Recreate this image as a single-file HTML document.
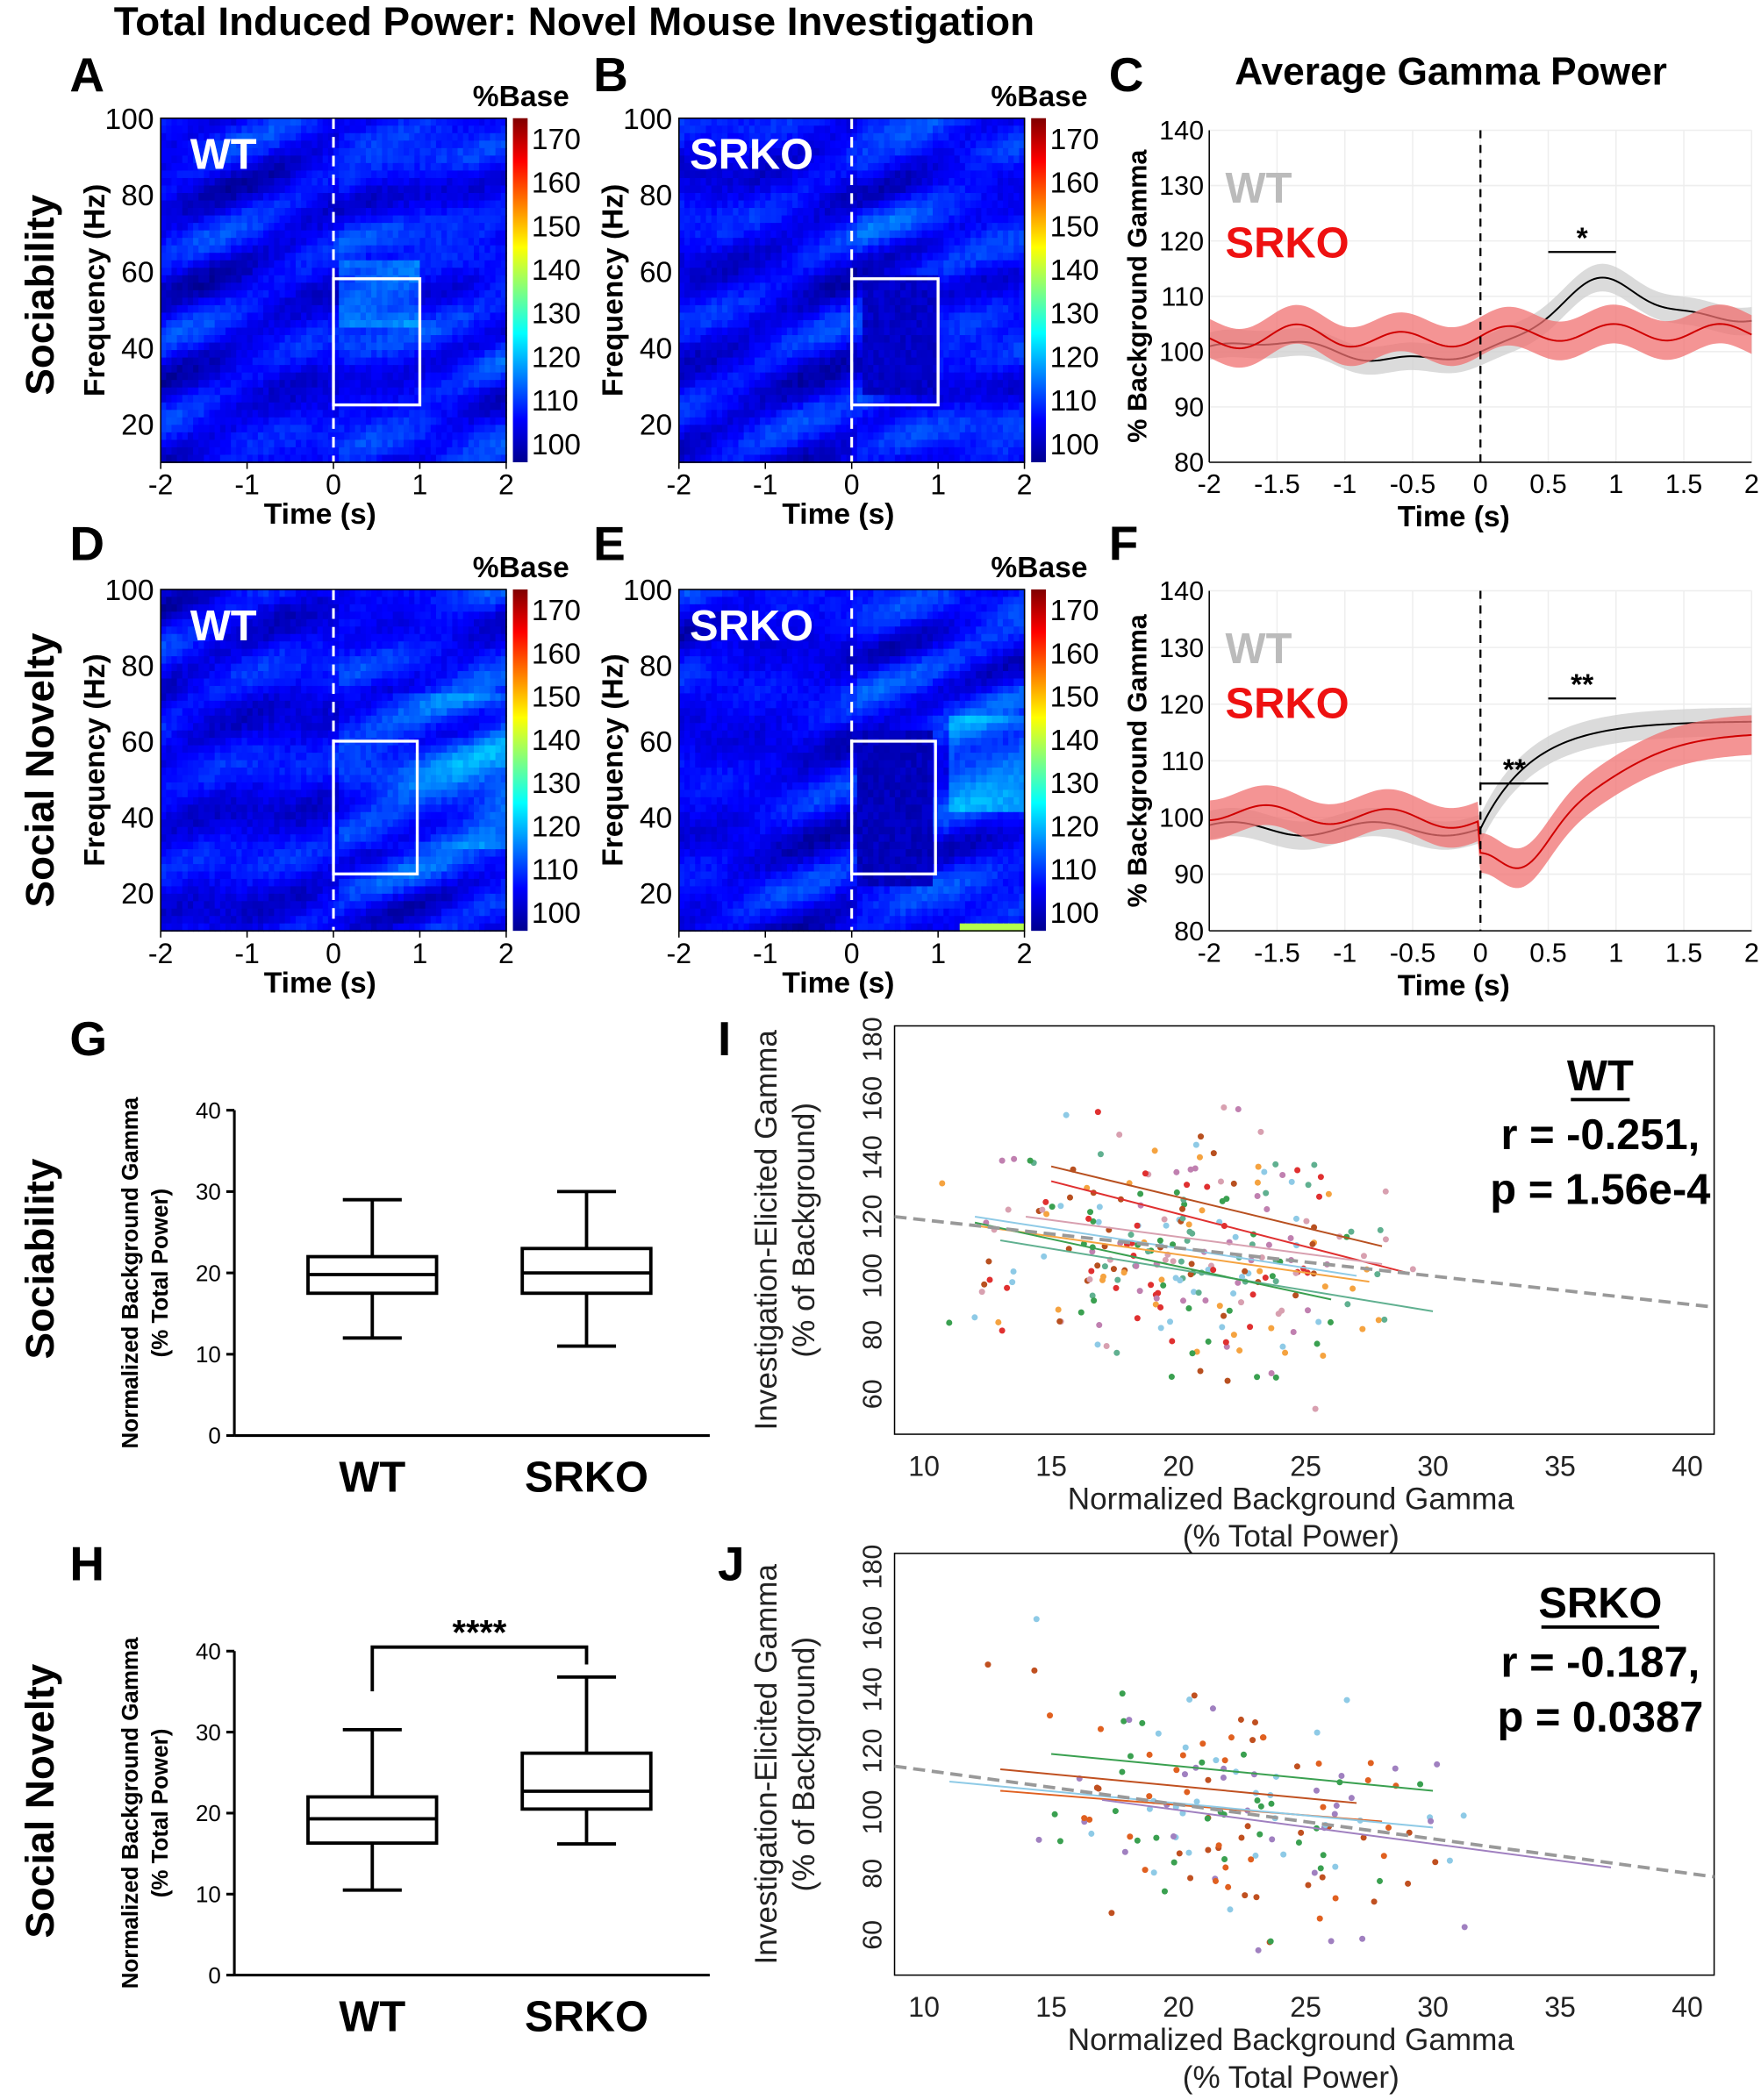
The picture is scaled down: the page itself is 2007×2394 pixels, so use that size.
<!DOCTYPE html>
<html><head><meta charset="utf-8"><style>
html,body{margin:0;padding:0;background:#fff}
svg{display:block}
text{font-family:"Liberation Sans",Arial,sans-serif}
</style></head><body>
<svg id="s" width="2007" height="2394" viewBox="0 0 1315 1568" xmlns="http://www.w3.org/2000/svg">
<defs>
<linearGradient id="jet" x1="0" y1="1" x2="0" y2="0">
<stop offset="0" stop-color="#00008f"/><stop offset="0.125" stop-color="#0000ff"/>
<stop offset="0.375" stop-color="#00ffff"/><stop offset="0.625" stop-color="#ffff00"/>
<stop offset="0.875" stop-color="#ff0000"/><stop offset="1" stop-color="#800000"/>
</linearGradient>
<clipPath id="c1"><rect x="668" y="766" width="612" height="305"/></clipPath>
<clipPath id="c2"><rect x="668" y="1160" width="612" height="315"/></clipPath>
</defs>
<text x="85" y="26" font-size="30" font-weight="bold">Total Induced Power: Novel Mouse Investigation</text>
<text x="922" y="63" font-size="29" font-weight="bold">Average Gamma Power</text>
<g font-size="36" font-weight="bold">
<text x="52" y="68">A</text><text x="443" y="68">B</text><text x="828" y="68">C</text>
<text x="52" y="418">D</text><text x="443" y="418">E</text><text x="828" y="418">F</text>
<text x="52" y="788">G</text><text x="536" y="788">I</text>
<text x="52" y="1180">H</text><text x="536" y="1180">J</text>
</g>
<g font-size="30" font-weight="bold" text-anchor="middle">
<text transform="translate(40,220) rotate(-90)">Sociability</text>
<text transform="translate(40,575) rotate(-90)">Social Novelty</text>
<text transform="translate(40,940) rotate(-90)">Sociability</text>
<text transform="translate(40,1345) rotate(-90)">Social Novelty</text>
</g>
<g id="dyn"></g>
</svg>
<script>
const NS="http://www.w3.org/2000/svg";let G=document.getElementById('dyn');
function el(t,a,txt){const e=document.createElementNS(NS,t);for(const k in a)e.setAttribute(k,a[k]);if(txt!==undefined)e.textContent=txt;G.appendChild(e);return e;}
let seed=7;function rnd(){seed=(seed*16807)%2147483647;return seed/2147483647;}
function jet(v){v=Math.max(0,Math.min(1,v));let r=Math.min(4*v-1.5,-4*v+4.5),g=Math.min(4*v-0.5,-4*v+3.5),b=Math.min(4*v+0.5,-4*v+2.5);
 const c=x=>Math.round(255*Math.max(0,Math.min(1,x)));return `rgb(${c(r)},${c(g)},${c(b)})`;}
function heat(x0,y0,w,h,lab,boxX1,boxX2,boxY1,boxY2,kind){
 const nx=64,ny=46,cw=w/nx,ch=h/ny;
 const ph=[rnd()*6,rnd()*6,rnd()*6,rnd()*6];
 for(let j=0;j<ny;j++)for(let i=0;i<nx;i++){
  let u=i/nx,f=j/ny;
  let n=Math.sin(u*6+ph[0]+f*2)*Math.sin(f*24+ph[1]+u*5)+0.5*Math.sin(u*17+f*29+ph[2]);
  let v=0.1+0.06*n+0.04*rnd();
  if(u>0.5) v+=0.04*(0.5+0.5*Math.sin(f*40+u*10+ph[3]));
  if(kind==1 && u>0.5 && u<0.75 && f>0.4 && f<0.6) v+=0.1;
  if(kind==2 && u>0.52 && u<0.75 && f>0.45 && f<0.8) v=0.05+0.04*rnd();
  if(kind==3 && u>0.5 && f>0.3 && f<0.75) v+=0.08*(u-0.4)*2;
  if(kind==4 && u>0.5 && u<0.73 && f>0.4 && f<0.85) v=0.04+0.04*rnd();
  if(kind==4 && u>0.78 && f>0.35 && f<0.65) v+=0.1;
  if(kind==4 && u>0.8 && f>0.96) v=0.55;
  el('rect',{x:x0+i*cw,y:y0+j*ch,width:cw+0.6,height:ch+0.6,fill:jet(v)});
 }
 const X=t=>x0+(t+2)*w/4, Y=fq=>y0+h-(fq-10)*h/90;
 el('line',{x1:X(0),y1:y0,x2:X(0),y2:y0+h,stroke:'#fff','stroke-width':2,'stroke-dasharray':'8,6'});
 el('rect',{x:X(boxX1),y:Y(boxY2),width:X(boxX2)-X(boxX1),height:Y(boxY1)-Y(boxY2),fill:'none',stroke:'#fff','stroke-width':2.2});
 el('text',{x:x0+(lab=='WT'?22:8),y:y0+38,'font-size':32,'font-weight':'bold',fill:'#fff'},lab);
 el('rect',{x:x0,y:y0,width:w,height:h,fill:'none',stroke:'#000','stroke-width':1});
 for(let t=-2;t<=2;t++){el('line',{x1:X(t),y1:y0+h,x2:X(t),y2:y0+h+5,stroke:'#000'});el('text',{x:X(t),y:y0+h+24,'font-size':21,'text-anchor':'middle'},t);}
 for(let fq=20;fq<=100;fq+=20){el('text',{x:x0-5,y:Y(fq)+8,'font-size':22,'text-anchor':'end'},fq);}
 el('text',{x:x0+w/2-10,y:y0+h+46,'font-size':22,'font-weight':'bold','text-anchor':'middle'},'Time (s)');
 el('text',{transform:`translate(${x0-42},${y0+h/2}) rotate(-90)`,'font-size':22,'font-weight':'bold','text-anchor':'middle'},'Frequency (Hz)');
 const cx=x0+w+5;el('rect',{x:cx,y:y0,width:11,height:h,fill:'url(#jet)'});
 el('text',{x:cx-30,y:y0-9,'font-size':22,'font-weight':'bold'},'%Base');
 for(let k=0;k<8;k++){const v=100+k*10;const yy=y0+h-14-k*(h-29)/7;el('text',{x:cx+14,y:yy+8,'font-size':22},v);}
}
heat(120,88,258,257,'WT',0,1,25,58,1);
heat(507,88,258,257,'SRKO',0,1,25,58,2);
heat(120,440,258,255,'WT',0,0.97,25,60,3);
heat(507,440,258,255,'SRKO',0,0.97,25,60,4);

function line(x0,y0,w,h,wt,sr,stars){
 const X=t=>x0+(t+2)*w/4,Y=v=>y0+h-(v-80)*h/60;
 for(let t=-2;t<=2;t+=0.5)el('line',{x1:X(t),y1:y0,x2:X(t),y2:y0+h,stroke:'#eee'});
 for(let v=90;v<=140;v+=10)el('line',{x1:x0,y1:Y(v),x2:x0+w,y2:Y(v),stroke:'#eee'});
 function band(fn,err,col,lc){let up=[],dn=[],ln=[];for(let t=-2;t<=2.001;t+=0.02){const v=fn(t);up.push(X(t)+','+Y(v+err));dn.unshift(X(t)+','+Y(v-err));ln.push(X(t)+','+Y(v));}
  el('polygon',{points:up.concat(dn).join(' '),fill:col,opacity:0.75});el('polyline',{points:ln.join(' '),fill:'none',stroke:lc,'stroke-width':1.3});}
 band(wt,2.5,'#cfcfcf','#000');band(sr,3.5,'#f07070','#d00000');
 el('line',{x1:X(0),y1:y0,x2:X(0),y2:y0+h,stroke:'#000','stroke-width':1.5,'stroke-dasharray':'6,5'});
 el('line',{x1:x0,y1:y0,x2:x0,y2:y0+h,stroke:'#000'});el('line',{x1:x0,y1:y0+h,x2:x0+w,y2:y0+h,stroke:'#000'});
 for(let v=80;v<=140;v+=10)el('text',{x:x0-4,y:Y(v)+7,'font-size':20,'text-anchor':'end'},v);
 const tl=['-2','-1.5','-1','-0.5','0','0.5','1','1.5','2'];
 tl.forEach((s,i)=>el('text',{x:X(-2+i*0.5),y:y0+h+23,'font-size':20,'text-anchor':'middle'},s));
 el('text',{x:x0+w/2-20,y:y0+h+48,'font-size':22,'font-weight':'bold','text-anchor':'middle'},'Time (s)');
 el('text',{transform:`translate(${x0-47},${y0+h/2}) rotate(-90)`,'font-size':20,'font-weight':'bold','text-anchor':'middle'},'% Background Gamma');
 el('text',{x:x0+12,y:y0+54,'font-size':32,'font-weight':'bold',fill:'#bbb'},'WT');
 el('text',{x:x0+12,y:y0+95,'font-size':32,'font-weight':'bold',fill:'#ee1111'},'SRKO');
 stars.forEach(s=>{el('line',{x1:X(s[0]),y1:Y(s[2]),x2:X(s[1]),y2:Y(s[2]),stroke:'#000','stroke-width':1.5});
  el('text',{x:(X(s[0])+X(s[1]))/2,y:Y(s[2])-3,'font-size':22,'font-weight':'bold','text-anchor':'middle'},s[3]);});
}
const g=(t,c,s)=>Math.exp(-((t-c)*(t-c))/(2*s*s));
const sig=x=>1/(1+Math.exp(-x));
line(903,97,405,248,
 t=>100+2*g(t,-1.5,0.3)-1.5*g(t,-0.6,0.4)+6*sig((t-0.4)/0.15)+7*g(t,0.9,0.3)+Math.sin(t*9)*0.6,
 t=>102+1.5*g(t,-1.3,0.2)+Math.sin(t*8)*1.5+1.5*sig(t/0.2),
 [[0.5,1,118,'*']]);
line(903,441,405,254,
 t=>(t<0?98+Math.sin(t*6)*1.2:98+19*(1-Math.exp(-t*2.6))),
 t=>(t<0?101-1.5*(t+2)/2+Math.sin(t*7)*1.5:97-8*g(t,0.3,0.2)+18*sig((t-0.9)/0.3)-3*sig(-t/0.05)),
 [[0,0.5,106,'**'],[0.5,1,121,'**']]);

function boxplot(x0,y0,h,boxes,bracket){
 const Y=v=>y0+h-v*h/40;
 el('line',{x1:x0,y1:y0,x2:x0,y2:y0+h,stroke:'#000','stroke-width':2});
 el('line',{x1:x0,y1:y0+h,x2:x0+355,y2:y0+h,stroke:'#000','stroke-width':2});
 for(let v=0;v<=40;v+=10){el('line',{x1:x0-6,y1:Y(v),x2:x0,y2:Y(v),stroke:'#000','stroke-width':2});el('text',{x:x0-10,y:Y(v)+6,'font-size':17,'text-anchor':'end'},v);}
 el('text',{transform:`translate(${x0-72},${y0+h/2}) rotate(-90)`,'font-size':17,'font-weight':'bold','text-anchor':'middle'},'Normalized Background Gamma');
 el('text',{transform:`translate(${x0-50},${y0+h/2}) rotate(-90)`,'font-size':17,'font-weight':'bold','text-anchor':'middle'},'(% Total Power)');
 boxes.forEach(b=>{const[c,lo,q1,m,q3,hi,lab]=b;
  el('line',{x1:c,y1:Y(lo),x2:c,y2:Y(hi),stroke:'#000','stroke-width':2.5});
  el('line',{x1:c-22,y1:Y(lo),x2:c+22,y2:Y(lo),stroke:'#000','stroke-width':2.5});
  el('line',{x1:c-22,y1:Y(hi),x2:c+22,y2:Y(hi),stroke:'#000','stroke-width':2.5});
  el('rect',{x:c-48,y:Y(q3),width:96,height:Y(q1)-Y(q3),fill:'#fff',stroke:'#000','stroke-width':2.5});
  el('line',{x1:c-48,y1:Y(m),x2:c+48,y2:Y(m),stroke:'#000','stroke-width':2.5});
  el('text',{x:c,y:y0+h+42,'font-size':32,'font-weight':'bold','text-anchor':'middle'},lab);});
 if(bracket){el('polyline',{points:`278,1263 278,1230 438,1230 438,1243`,fill:'none',stroke:'#000','stroke-width':2.5});
  el('text',{x:358,y:1228,'font-size':26,'font-weight':'bold','text-anchor':'middle'},'****');}
}
boxplot(175,829,243,[[278,12,17.5,19.8,22,29,'WT'],[438,11,17.5,20,23,30,'SRKO']],false);
boxplot(175,1233,242,[[278,10.5,16.3,19.3,22,30.3,'WT'],[438,16.2,20.5,22.7,27.4,36.8,'SRKO']],true);

function scatter(x0,y0,w,h,cols,n,lines,trend,title,r,p,clip,xr){
 const X=v=>690+(v-10)*19,Y=v=>y0+h-30-(v-60)*(h-40)/120;
 el('rect',{x:x0,y:y0,width:w,height:h,fill:'none',stroke:'#000','stroke-width':1});
 for(let v=10;v<=40;v+=5)el('text',{x:X(v),y:y0+h+31,'font-size':21,'text-anchor':'middle',fill:'#222'},v);
 for(let v=60;v<=180;v+=20)el('text',{transform:`translate(${x0-10},${Y(v)}) rotate(-90)`,'font-size':20,'text-anchor':'middle',fill:'#222'},v);
 el('text',{x:x0+w/2-10,y:y0+h+56,'font-size':23,'text-anchor':'middle',fill:'#222'},'Normalized Background Gamma');
 el('text',{x:x0+w/2-10,y:y0+h+84,'font-size':23,'text-anchor':'middle',fill:'#222'},'(% Total Power)');
 el('text',{transform:`translate(${x0-88},${y0+h/2}) rotate(-90)`,'font-size':23,'text-anchor':'middle',fill:'#222'},'Investigation-Elicited Gamma');
 el('text',{transform:`translate(${x0-60},${y0+h/2}) rotate(-90)`,'font-size':23,'text-anchor':'middle',fill:'#222'},'(% of Background)');
 const gg=el('g',{'clip-path':`url(#${clip})`});const old=G;G=gg;
 for(let i=0;i<n;i++){let xv=xr[0]+(rnd()+rnd())/2*(xr[1]-xr[0])+(rnd()<0.1?(rnd()-0.5)*12:0);
  let yv=trend(xv)+(rnd()+rnd()+rnd()-1.5)*40;yv=Math.max(55,Math.min(178,yv));
  el('circle',{cx:X(xv),cy:Y(yv),r:2.3,fill:cols[i%cols.length]});}
 lines.forEach(l=>el('line',{x1:X(l[0]),y1:Y(l[1]),x2:X(l[2]),y2:Y(l[3]),stroke:l[4],'stroke-width':1.3}));
 el('line',{x1:x0,y1:Y(trend(8.8)),x2:x0+w,y2:Y(trend(41)),stroke:'#999','stroke-width':2.5,'stroke-dasharray':'9,5'});
 G=old;
 const tx=x0+w-85;
 el('text',{x:tx,y:y0+48,'font-size':32,'font-weight':'bold','text-anchor':'middle'},title);
 const tw=title.length*22;el('line',{x1:tx-tw/2,y1:y0+55,x2:tx+tw/2,y2:y0+55,stroke:'#000','stroke-width':2.5});
 el('text',{x:tx,y:y0+92,'font-size':32,'font-weight':'bold','text-anchor':'middle'},r);
 el('text',{x:tx,y:y0+133,'font-size':32,'font-weight':'bold','text-anchor':'middle'},p);
}
seed=99;
scatter(668,766,612,305,['#f5a340','#3aa050','#8ecae6','#e03030','#d8a0b0','#b85020','#c080b0','#60b090'],260,
 [[12,117,27.5,98,'#f5a340'],[13,112,30,88,'#60b090'],[12,118,26,92,'#3aa050'],[15,137,28,110,'#b85020'],[15,132,29,101,'#e03030'],[14,120,28,104,'#d8a0b0'],[12,120,27,100,'#8ecae6']],
 v=>120-(v-8.8)*0.95,'WT','r = -0.251,','p = 1.56e-4','c1',[10.5,29]);
seed=1234;
scatter(668,1160,612,315,['#a080c0','#e06020','#3aa050','#8ecae6','#c05020'],150,
 [[15,119,30,107,'#3aa050'],[13,114,27,103,'#c05020'],[13,107,28,97,'#e06020'],[11,110,30,95,'#8ecae6'],[17,104,37,82,'#a080c0']],
 v=>115-(v-8.8)*1.12,'SRKO','r = -0.187,','p = 0.0387','c2',[13,32]);
</script>
</body></html>
